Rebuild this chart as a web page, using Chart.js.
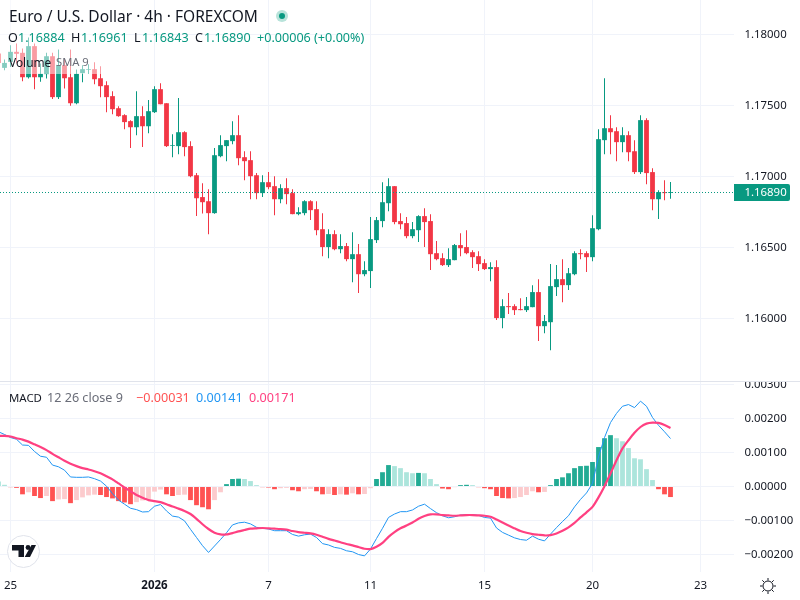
<!DOCTYPE html>
<html><head><meta charset="utf-8">
<script src="https://cdn.jsdelivr.net/npm/chart.js@4"></script>
<style>
html,body{margin:0;padding:0;background:#fff;width:800px;height:600px;overflow:hidden}
body{font-family:"Noto Sans",sans-serif;color:#131722}
canvas{position:absolute;left:0}
#priceWrap{position:absolute;left:0;top:0;width:800px;height:381px}
#macdWrap{position:absolute;left:0;top:382px;width:800px;height:218px}
.t{position:absolute;white-space:nowrap;line-height:16px;font-size:12.6px}
#veil{position:absolute;left:0;top:0;width:103px;height:74px;background:rgba(255,255,255,.5)}
#sep{position:absolute;left:0;top:381px;width:800px;height:1px;background:#e0e3eb}
.g{color:#089981}
</style></head><body>
<div id="priceWrap"><canvas id="price"></canvas></div>
<div id="macdWrap"><canvas id="macd"></canvas></div>
<div id="veil"></div><div id="sep"></div>
<div class="t" style="left:9px;top:8px;font-size:15.5px">Euro / U.S. Dollar · 4h · FOREXCOM</div>
<svg style="position:absolute;left:275px;top:9px" width="14" height="14"><circle cx="7" cy="7" r="6" fill="#b8e3da"/><circle cx="7" cy="7" r="3" fill="#089981"/></svg>
<div class="t" style="left:8px;top:30px">O</div><div class="t g" style="left:18px;top:30px">1.16884</div>
<div class="t" style="left:71px;top:30px">H</div><div class="t g" style="left:81px;top:30px">1.16961</div>
<div class="t" style="left:134px;top:30px">L</div><div class="t g" style="left:142px;top:30px">1.16843</div>
<div class="t" style="left:195px;top:30px">C</div><div class="t g" style="left:204px;top:30px">1.16890</div>
<div class="t g" style="left:257px;top:30px">+0.00006 (+0.00%)</div>
<div class="t" style="left:9px;top:54px;font-size:11.9px">Volume</div><div class="t" style="left:56px;top:54px;color:#6a6d78;font-size:11.2px">SMA 9</div>
<div class="t" style="left:9px;top:390px;font-size:11.4px">MACD</div><div class="t" style="left:47px;top:390px;color:#6a6d78">12 26 close 9</div>
<div class="t" style="left:136px;top:390px;color:#ff5252">−0.00031</div>
<div class="t" style="left:196px;top:390px;color:#2196f3">0.00141</div>
<div class="t" style="left:249px;top:390px;color:#ff4081">0.00171</div>
<svg style="position:absolute;left:7px;top:535px" width="33" height="33" viewBox="0 0 33 33"><circle cx="16.5" cy="16.5" r="16" fill="#fff" stroke="#e0e3eb" stroke-width="1"/><path d="M5 10h12v12h-5.5v-6.5H5z M24.5 10h4.5l-6 12h-5.3z" fill="#131722"/><circle cx="21" cy="12.5" r="2.4" fill="#131722"/></svg>
<svg style="position:absolute;left:759px;top:577px" width="18" height="18" viewBox="0 0 18 18" fill="none" stroke="#131722" stroke-width="1"><circle cx="9" cy="9" r="5"/><path d="M9 1v2.5M9 14.5V17M1 9h2.5M14.5 9H17M3.3 3.3l1.8 1.8M12.9 12.9l1.8 1.8M3.3 14.7l1.8-1.8M12.9 5.1l1.8-1.8"/></svg>
<script>
const opens=[1.17866,1.17765,1.17807,1.17878,1.17871,1.17699,1.17918,1.17699,1.17721,1.17847,1.17559,1.17784,1.17699,1.17516,1.17728,1.17751,1.17756,1.17692,1.17643,1.17566,1.17481,1.17432,1.17390,1.17347,1.17425,1.17354,1.17453,1.17615,1.17516,1.17216,1.17214,1.17312,1.17214,1.17009,1.16855,1.16826,1.16742,1.17143,1.17214,1.17249,1.17291,1.17136,1.17115,1.17009,1.16883,1.16960,1.16932,1.16840,1.16918,1.16883,1.16735,1.16742,1.16826,1.16770,1.16629,1.16503,1.16594,1.16488,1.16510,1.16418,1.16453,1.16312,1.16334,1.16552,1.16686,1.16812,1.16932,1.16686,1.16672,1.16580,1.16622,1.16721,1.16686,1.16460,1.16425,1.16376,1.16411,1.16517,1.16503,1.16467,1.16439,1.16390,1.16348,1.16362,1.16003,1.16087,1.16087,1.16066,1.16059,1.16080,1.16186,1.15946,1.15974,1.16221,1.16277,1.16235,1.16312,1.16460,1.16460,1.16432,1.16629,1.17256,1.17340,1.17319,1.17242,1.17291,1.17178,1.17031,1.17397,1.17031,1.16840,1.16890,1.16884];
const highs=[1.17890,1.17824,1.17925,1.17937,1.17901,1.17979,1.17937,1.17796,1.17871,1.17871,1.17894,1.17831,1.17894,1.17753,1.17784,1.17791,1.17805,1.17777,1.17671,1.17601,1.17495,1.17439,1.17397,1.17601,1.17495,1.17538,1.17636,1.17657,1.17516,1.17298,1.17552,1.17319,1.17249,1.17024,1.16953,1.16911,1.17200,1.17291,1.17256,1.17390,1.17432,1.17178,1.17178,1.17024,1.17009,1.17031,1.17002,1.16946,1.16988,1.16911,1.16784,1.16833,1.16833,1.16826,1.16742,1.16629,1.16622,1.16594,1.16531,1.16608,1.16524,1.16404,1.16714,1.16714,1.16960,1.16988,1.16932,1.16742,1.16714,1.16679,1.16728,1.16777,1.16735,1.16545,1.16460,1.16495,1.16524,1.16601,1.16622,1.16481,1.16474,1.16418,1.16397,1.16411,1.16136,1.16179,1.16101,1.16143,1.16151,1.16235,1.16277,1.16024,1.16383,1.16376,1.16418,1.16355,1.16474,1.16488,1.16474,1.16728,1.17333,1.17692,1.17432,1.17347,1.17347,1.17319,1.17256,1.17432,1.17411,1.17059,1.16904,1.16974,1.16961];
const lows=[1.17784,1.17749,1.17772,1.17796,1.17671,1.17690,1.17615,1.17667,1.17690,1.17545,1.17545,1.17620,1.17498,1.17509,1.17664,1.17721,1.17650,1.17559,1.17453,1.17439,1.17420,1.17333,1.17200,1.17291,1.17207,1.17305,1.17448,1.17509,1.17207,1.17136,1.17157,1.17143,1.16995,1.16721,1.16740,1.16594,1.16737,1.17136,1.17108,1.17228,1.17080,1.16974,1.16840,1.16840,1.16855,1.16911,1.16728,1.16812,1.16805,1.16735,1.16728,1.16728,1.16693,1.16587,1.16439,1.16425,1.16481,1.16460,1.16404,1.16256,1.16179,1.16298,1.16214,1.16531,1.16643,1.16756,1.16664,1.16629,1.16566,1.16566,1.16538,1.16503,1.16341,1.16411,1.16369,1.16362,1.16411,1.16439,1.16453,1.16355,1.16334,1.16341,1.16263,1.15989,1.15932,1.16031,1.16024,1.16059,1.16045,1.16080,1.15841,1.15897,1.15777,1.16158,1.16115,1.16200,1.16305,1.16418,1.16327,1.16404,1.16622,1.17157,1.17157,1.17108,1.17171,1.17108,1.17017,1.17017,1.16946,1.16763,1.16700,1.16833,1.16843];
const closes=[1.17800,1.17800,1.17878,1.17864,1.17699,1.17918,1.17699,1.17723,1.17847,1.17559,1.17784,1.17692,1.17516,1.17723,1.17756,1.17756,1.17685,1.17636,1.17559,1.17474,1.17425,1.17383,1.17347,1.17425,1.17354,1.17460,1.17615,1.17509,1.17214,1.17221,1.17312,1.17207,1.17002,1.16847,1.16819,1.16742,1.17150,1.17221,1.17256,1.17291,1.17129,1.17108,1.17002,1.16883,1.16960,1.16925,1.16840,1.16918,1.16876,1.16735,1.16749,1.16826,1.16763,1.16622,1.16503,1.16594,1.16488,1.16510,1.16418,1.16453,1.16312,1.16341,1.16559,1.16693,1.16819,1.16932,1.16679,1.16664,1.16580,1.16629,1.16721,1.16679,1.16453,1.16418,1.16376,1.16418,1.16517,1.16495,1.16460,1.16432,1.16383,1.16348,1.16362,1.16003,1.16087,1.16080,1.16059,1.16059,1.16087,1.16186,1.15946,1.15982,1.16228,1.16277,1.16235,1.16319,1.16460,1.16453,1.16432,1.16636,1.17263,1.17340,1.17312,1.17242,1.17291,1.17171,1.17031,1.17397,1.17024,1.16840,1.16890,1.16883,1.16890];
const macdLine=[0.00161,0.00153,0.00144,0.00139,0.00122,0.00121,0.00103,0.00089,0.00086,0.00063,0.00058,0.00048,0.00028,0.00027,0.00027,0.00028,0.00023,0.00016,0.00001,-0.00021,-0.00040,-0.00052,-0.00064,-0.00068,-0.00075,-0.00074,-0.00058,-0.00053,-0.00072,-0.00087,-0.00090,-0.00101,-0.00126,-0.00150,-0.00174,-0.00194,-0.00175,-0.00156,-0.00136,-0.00113,-0.00107,-0.00105,-0.00110,-0.00120,-0.00123,-0.00125,-0.00130,-0.00130,-0.00130,-0.00141,-0.00146,-0.00142,-0.00140,-0.00150,-0.00168,-0.00172,-0.00179,-0.00182,-0.00189,-0.00192,-0.00200,-0.00204,-0.00184,-0.00153,-0.00123,-0.00091,-0.00081,-0.00074,-0.00074,-0.00069,-0.00058,-0.00052,-0.00065,-0.00077,-0.00086,-0.00092,-0.00089,-0.00084,-0.00083,-0.00083,-0.00085,-0.00091,-0.00093,-0.00122,-0.00135,-0.00143,-0.00151,-0.00156,-0.00158,-0.00146,-0.00155,-0.00160,-0.00140,-0.00121,-0.00103,-0.00086,-0.00060,-0.00038,-0.00019,0.00009,0.00087,0.00144,0.00188,0.00215,0.00236,0.00241,0.00232,0.00251,0.00236,0.00203,0.00180,0.00161,0.00141];
const signalLine=[0.00149,0.00149,0.00147,0.00142,0.00138,0.00132,0.00124,0.00116,0.00107,0.00096,0.00086,0.00076,0.00067,0.00060,0.00054,0.00050,0.00045,0.00039,0.00030,0.00021,0.00009,-0.00003,-0.00014,-0.00025,-0.00033,-0.00040,-0.00043,-0.00046,-0.00052,-0.00059,-0.00065,-0.00072,-0.00081,-0.00095,-0.00111,-0.00125,-0.00136,-0.00141,-0.00141,-0.00137,-0.00132,-0.00128,-0.00124,-0.00123,-0.00122,-0.00123,-0.00124,-0.00125,-0.00127,-0.00131,-0.00134,-0.00136,-0.00138,-0.00142,-0.00148,-0.00154,-0.00159,-0.00164,-0.00169,-0.00173,-0.00178,-0.00183,-0.00184,-0.00177,-0.00166,-0.00148,-0.00134,-0.00123,-0.00115,-0.00106,-0.00095,-0.00087,-0.00082,-0.00082,-0.00084,-0.00085,-0.00086,-0.00085,-0.00084,-0.00084,-0.00085,-0.00086,-0.00089,-0.00097,-0.00106,-0.00115,-0.00123,-0.00131,-0.00136,-0.00140,-0.00142,-0.00144,-0.00143,-0.00138,-0.00130,-0.00120,-0.00107,-0.00091,-0.00076,-0.00060,-0.00032,0.00001,0.00038,0.00077,0.00112,0.00136,0.00158,0.00175,0.00185,0.00188,0.00187,0.00181,0.00172];
const histogram=[0.00015,0.00005,-0.00002,-0.00004,-0.00023,-0.00017,-0.00028,-0.00034,-0.00028,-0.00043,-0.00038,-0.00037,-0.00049,-0.00040,-0.00032,-0.00026,-0.00024,-0.00025,-0.00031,-0.00035,-0.00043,-0.00047,-0.00052,-0.00046,-0.00041,-0.00037,-0.00015,-0.00009,-0.00023,-0.00028,-0.00025,-0.00024,-0.00040,-0.00055,-0.00061,-0.00067,-0.00040,-0.00017,0.00007,0.00022,0.00023,0.00022,0.00016,0.00004,-0.00002,-0.00003,-0.00008,-0.00005,-0.00004,-0.00011,-0.00014,-0.00008,-0.00007,-0.00014,-0.00023,-0.00022,-0.00025,-0.00023,-0.00024,-0.00020,-0.00023,-0.00022,-0.00005,0.00022,0.00042,0.00063,0.00060,0.00054,0.00042,0.00039,0.00040,0.00039,0.00022,0.00007,-0.00006,-0.00008,-0.00002,0.00004,0.00005,0.00004,-0.00002,-0.00005,-0.00008,-0.00028,-0.00034,-0.00035,-0.00034,-0.00031,-0.00025,-0.00014,-0.00017,-0.00016,0.00004,0.00022,0.00027,0.00039,0.00054,0.00060,0.00061,0.00072,0.00116,0.00142,0.00151,0.00142,0.00133,0.00113,0.00083,0.00080,0.00051,0.00019,-0.00008,-0.00023,-0.00031];
const priceTicks=[1.18,1.175,1.17,1.165,1.16];
const macdTicks=[0.003,0.002,0.001,0,-0.001,-0.002];
const dateTickIndex=[2,26,45,62,81,99,117];
const dateTickLabels=["25","2026","7","11","15","20","23"];
const lastPrice=1.16890;

const UP="#089981",DOWN="#f23645",GRID="#f0f3fa",TEXT="#131722",FONT='"Noto Sans",sans-serif';
const idx=opens.map((_,k)=>k);
const XMIN=0.25,XMAX=122.583;
function xScale(showLabels){
  return {type:"linear",min:XMIN,max:XMAX,offset:false,
    grid:{color:GRID,offset:false,drawTicks:false},border:{display:false},
    afterBuildTicks(s){s.ticks=dateTickIndex.map(v=>({value:v}));},
    afterFit(s){s.height=showLabels?28:0;s.paddingLeft=0;s.paddingRight=0;s.paddingTop=0;s.paddingBottom=0;},
    ticks:{display:showLabels,autoSkip:false,maxRotation:0,padding:7,color:TEXT,
      font:c=>({family:FONT,size:11.5,weight:(c.tick&&c.tick.value===26)?"700":"400"}),
      callback:v=>dateTickLabels[dateTickIndex.indexOf(v)]||""}};
}
function yScale(ticks,min,max,fmt){
  return {type:"linear",position:"right",min,max,
    grid:{color:GRID,drawTicks:false},border:{display:false},
    afterBuildTicks(s){s.ticks=ticks.map(v=>({value:v}));},
    afterFit(s){s.width=66;s.paddingTop=0;s.paddingBottom=0;s.paddingLeft=0;s.paddingRight=0;},
    ticks:{padding:10.5,color:TEXT,font:{family:FONT,size:11.4},callback:fmt}};
}
const lastPricePlugin={id:"lastPrice",afterDatasetsDraw(ch){
  const c=ch.ctx,a=ch.chartArea,y=Math.floor(ch.scales.y.getPixelForValue(lastPrice))+.5;
  c.save();c.strokeStyle=UP;c.lineWidth=1;c.setLineDash([1,2]);
  c.beginPath();c.moveTo(a.left,y);c.lineTo(a.right,y);c.stroke();c.setLineDash([]);
  c.fillStyle=UP;c.beginPath();c.roundRect(a.right,y-8.5,56,17,[0,2,2,0]);c.fill();
  c.fillStyle="#fff";c.font='11.4px '+FONT;c.textBaseline="middle";c.textAlign="left";
  c.fillText(lastPrice.toFixed(5),a.right+10.5,y+.5);c.restore();
}};
const cfgBase={responsive:false,animation:false,events:[],
  plugins:{legend:{display:false},tooltip:{enabled:false}},layout:{padding:0,autoPadding:false}};
function size(id,w,h){const e=document.getElementById(id);e.width=w;e.height=h;e.style.width=w+"px";e.style.height=h+"px";return e;}
const candleColors=idx.map(k=>closes[k]>=opens[k]?UP:DOWN);
new Chart(size("price",800,381),{type:"bar",
  data:{datasets:[
    {label:"wick",grouped:false,barPercentage:1,maxBarThickness:1,backgroundColor:candleColors,order:2,
     data:idx.map(k=>({x:k,y:[lows[k],highs[k]]}))},
    {label:"body",grouped:false,barPercentage:1,maxBarThickness:5,backgroundColor:candleColors,order:1,
     data:idx.map(k=>({x:k,y:[opens[k],closes[k]]}))}
  ]},
  options:{...cfgBase,scales:{x:xScale(false),y:yScale(priceTicks,1.155599,1.18243,v=>v.toFixed(5))}},
  plugins:[lastPricePlugin]});
const histColors=histogram.map((h,k)=>{const p=k?histogram[k-1]:h;
  return h>=0?(h>p?"#22ab94":"#ace5dc"):(h<p?"#ff5252":"#fccbcd");});
new Chart(size("macd",800,218),{type:"bar",
  data:{datasets:[
    {type:"bar",label:"Histogram",grouped:false,barPercentage:1,maxBarThickness:5,backgroundColor:histColors,order:3,
     data:idx.map(k=>({x:k,y:histogram[k]}))},
    {type:"line",label:"MACD",borderColor:"#2196f3",borderWidth:1,pointRadius:0,tension:0,order:2,
     data:idx.map(k=>({x:k,y:macdLine[k]}))},
    {type:"line",label:"Signal",borderColor:"#ff4081",borderWidth:2.2,pointRadius:0,tension:0.2,order:1,
     data:idx.map(k=>({x:k,y:signalLine[k]}))}
  ]},
  options:{...cfgBase,scales:{x:xScale(true),y:yScale(macdTicks,-0.0025147,0.0030735,v=>(v<0?"−":"")+Math.abs(v).toFixed(5))}}});
</script></body></html>
